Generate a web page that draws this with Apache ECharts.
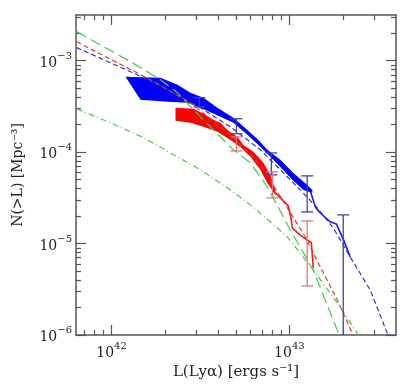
<!DOCTYPE html>
<html>
<head>
<meta charset="utf-8">
<script src="https://cdn.jsdelivr.net/npm/echarts@6/dist/echarts.min.js"></script>
<style>
  html, body { margin: 0; padding: 0; background: #fff; }
  #chart { width: 409px; height: 390px; }
</style>
</head>
<body>
<div id="chart"></div>
<script>
// L in units of 1e42 erg/s, N(>L) in Mpc^-3

// model curves
const greenDashL = [0.636, 1.279, 1.885, 2.349, 2.888, 3.60, 4.847, 6.04, 7.52, 10.13, 13.64, 18.61, 20.1]
const greenDashN = [2.08e-3, 9.75e-4, 6.19e-4, 4.47e-4, 2.90e-4, 1.89e-4, 1.06e-4, 7.64e-5, 4.17e-5, 1.41e-5, 5.14e-6, 1.13e-6, 7.74e-7]

const blueDashL = [0.636, 1.279, 1.885, 3.162, 4.663, 6.87, 11.53, 14.37, 17.67, 22.01, 28.52, 35.52, 37.91]
const blueDashN = [1.39e-3, 7.58e-4, 5.32e-4, 3.05e-4, 1.89e-4, 1.06e-4, 3.86e-5, 2.45e-5, 1.48e-5, 7.13e-6, 3.10e-6, 1.05e-6, 7.74e-7]

const redDashL = [0.636, 1.656, 2.778, 4.663, 6.87, 9.135, 12.30, 14.94, 18.61, 22.59, 23.79]
const redDashN = [1.61e-3, 6.19e-4, 3.47e-4, 1.55e-4, 7.26e-5, 3.01e-5, 1.18e-5, 5.55e-6, 2.42e-6, 1.05e-6, 7.74e-7]

const greenDotL = [0.636, 0.987, 1.513, 3.162, 4.663, 6.04, 7.82, 9.74, 13.64, 18.13, 24.10, 25.71]
const greenDotN = [2.98e-4, 2.09e-4, 1.44e-4, 6.40e-5, 3.86e-5, 2.65e-5, 1.73e-5, 1.18e-5, 5.14e-6, 2.41e-6, 1.05e-6, 7.74e-7]

// observed ranges (filled bands)
const blueUpL = [1.198, 1.885, 2.349, 2.778, 3.288, 3.94, 4.847, 5.81, 6.70, 7.52, 8.90, 10.53, 12.62, 13.46]
const blueUpN = [6.68e-4, 6.52e-4, 5.46e-4, 4.47e-4, 3.94e-4, 3.05e-4, 2.38e-4, 1.75e-4, 1.36e-4, 1.06e-4, 8.24e-5, 5.93e-5, 4.38e-5, 3.86e-5]
const blueLoL = [1.455, 2.064, 2.673, 3.162, 4.10, 4.847, 5.81, 6.70, 7.82, 8.90, 10.39, 11.99, 13.46]
const blueLoN = [3.74e-4, 3.56e-4, 3.47e-4, 3.05e-4, 2.44e-4, 2.09e-4, 1.55e-4, 1.20e-4, 8.89e-5, 6.90e-5, 4.98e-5, 3.86e-5, 3.58e-5]
const blueTailL = [13.12, 14.0, 14.94, 17.0, 18.37, 20.1, 22.01]
const blueTailN = [3.77e-5, 2.52e-5, 2.16e-5, 1.73e-5, 1.64e-5, 1.12e-5, 7.13e-6]

const redUpL = [2.289, 2.888, 3.288, 3.74, 4.10, 4.485, 5.105, 5.516, 6.28, 7.14, 7.82, 8.34]
const redUpN = [3.05e-4, 2.98e-4, 2.63e-4, 2.26e-4, 2.09e-4, 1.75e-4, 1.47e-4, 1.20e-4, 1.01e-4, 7.64e-5, 5.64e-5, 3.86e-5]
const redLoL = [2.289, 2.778, 3.288, 3.94, 4.663, 5.305, 6.04, 6.87, 7.52, 8.34]
const redLoN = [2.20e-4, 2.09e-4, 1.89e-4, 1.67e-4, 1.36e-4, 1.14e-4, 8.89e-5, 6.40e-5, 4.61e-5, 3.40e-5]
const redTailL = [8.24, 8.90, 9.87, 10.26, 10.39, 11.53, 12.62, 13.30, 13.64]
const redTailN = [3.67e-5, 3.16e-5, 2.58e-5, 1.81e-5, 1.48e-5, 1.24e-5, 1.09e-5, 1.02e-5, 5.41e-6]

// error bars
const blueErrL = [3.12, 5.04, 7.92, 12.6, 20.1]
const blueErrHi = [3.94e-4, 2.32e-4, 9.8e-5, 5.5e-5, 2.06e-5]
const blueErrLo = [3.13e-4, 1.59e-4, 5.64e-5, 2.22e-5, 1e-7]
const redErrL = [5.04, 8.03, 12.6]
const redErrHi = [1.47e-4, 6.08e-5, 1.77e-5]
const redErrLo = [1.03e-4, 3.16e-5, 3.44e-6]

// axes (log10 space)
const xMajor = [42, 43]
const xTickLabels = [['10', '42'], ['10', '43']]
const yMajor = [-6, -5, -4, -3]
const yTickLabels = [['10', '−6'], ['10', '−5'], ['10', '−4'], ['10', '−3']]
const xRange = [41.8, 43.6]
const yRange = [-6, -2.5]

const lx = l => 42 + Math.log10(l)
const ly = n => Math.log10(n)
const pairs = (L, N) => L.map((l, i) => [lx(l), ly(N[i])])

const minorTicks = (lo, hi) => {
  const out = []
  for (let d = Math.floor(lo) - 1; d <= Math.ceil(hi); d++) {
    for (let k = 2; k <= 9; k++) {
      const v = d + Math.log10(k)
      if (v > lo && v < hi) out.push(v)
    }
  }
  return out
}
const xMinor = minorTicks(xRange[0], xRange[1])
const yMinor = minorTicks(yRange[0], yRange[1])

const FONT = 'DejaVu Serif'
const AXIS_COLOR = '#555'
const labelRich = {
  b: { fontFamily: FONT, fontSize: 14, color: '#222', lineHeight: 19, verticalAlign: 'bottom' },
  s: { fontFamily: FONT, fontSize: 10, color: '#222', lineHeight: 19, verticalAlign: 'top' }
}

const makeAxis = (dim, position, range, major, minor, labels, showLine) => {
  const isX = dim === 'x'
  const base = {
    type: 'value',
    position,
    min: range[0],
    max: range[1],
    splitLine: { show: false },
    axisLine: { show: showLine, onZero: false, lineStyle: { color: AXIS_COLOR, width: 1.5 } }
  }
  const ticks = major ? major : minor
  base.axisTick = {
    show: true,
    inside: true,
    length: major ? 10 : 5,
    customValues: ticks,
    lineStyle: { color: AXIS_COLOR, width: 1.2 }
  }
  if (labels) {
    base.axisLabel = {
      show: true,
      customValues: major,
      margin: isX ? 6 : 4,
      formatter: v => {
        const t = labels[major.indexOf(v)]
        return t ? '{b|' + t[0] + '}{s|' + t[1] + '}' : ''
      },
      rich: labelRich
    }
  } else {
    base.axisLabel = { show: false }
  }
  return base
}

const xAxes = [
  Object.assign(makeAxis('x', 'bottom', xRange, xMajor, null, xTickLabels, true), {
    name: 'L(Lyα) [ergs s⁻¹]',
    nameLocation: 'middle',
    nameGap: 27,
    nameTextStyle: { fontFamily: FONT, fontSize: 15, color: '#222' }
  }),
  makeAxis('x', 'bottom', xRange, null, xMinor, null, false),
  makeAxis('x', 'top', xRange, xMajor, null, null, true),
  makeAxis('x', 'top', xRange, null, xMinor, null, false)
]
const yAxes = [
  Object.assign(makeAxis('y', 'left', yRange, yMajor, null, yTickLabels, true), {
    name: 'N(>L) [Mpc⁻³]',
    nameLocation: 'middle',
    nameGap: 51,
    nameTextStyle: { fontFamily: FONT, fontSize: 14, color: '#222' }
  }),
  makeAxis('y', 'left', yRange, null, yMinor, null, false),
  makeAxis('y', 'right', yRange, yMajor, null, null, true),
  makeAxis('y', 'right', yRange, null, yMinor, null, false)
]

const bandSeries = (upL, upN, loL, loN, color) => ({
  type: 'custom',
  xAxisIndex: 0,
  yAxisIndex: 0,
  data: [[upL[0], upN[0]]],
  clip: true,
  silent: true,
  z: 1,
  renderItem: (params, api) => {
    const pts = []
    upL.forEach((l, i) => pts.push(api.coord([lx(l), ly(upN[i])])))
    for (let i = loL.length - 1; i >= 0; i--) {
      pts.push(api.coord([lx(loL[i]), ly(loN[i])]))
    }
    return { type: 'polygon', shape: { points: pts }, style: { fill: color } }
  }
})

const lineSeries = (L, N, color, dash, width, z) => ({
  type: 'line',
  xAxisIndex: 0,
  yAxisIndex: 0,
  data: pairs(L, N),
  showSymbol: false,
  silent: true,
  clip: true,
  z: z || 3,
  lineStyle: { color, width: width || 1.2, type: dash || 'solid' }
})

const errSeries = (L, lo, hi, color) => ({
  type: 'custom',
  xAxisIndex: 0,
  yAxisIndex: 0,
  data: L.map((l, i) => [lx(l), ly(lo[i]), ly(hi[i])]),
  clip: true,
  silent: true,
  z: 5,
  renderItem: (params, api) => {
    const x = api.value(0)
    const pLo = api.coord([x, api.value(1)])
    const pHi = api.coord([x, api.value(2)])
    const w = 6
    const style = { stroke: color, lineWidth: 1.3 }
    return {
      type: 'group',
      children: [
        { type: 'line', shape: { x1: pLo[0], y1: pLo[1], x2: pHi[0], y2: pHi[1] }, style },
        { type: 'line', shape: { x1: pHi[0] - w, y1: pHi[1], x2: pHi[0] + w, y2: pHi[1] }, style },
        { type: 'line', shape: { x1: pLo[0] - w, y1: pLo[1], x2: pLo[0] + w, y2: pLo[1] }, style }
      ]
    }
  }
})

const chart = echarts.init(document.getElementById('chart'))
chart.setOption({
  animation: false,
  grid: { left: 76, right: 13, top: 15, bottom: 55 },
  xAxis: xAxes,
  yAxis: yAxes,
  series: [
    bandSeries(blueUpL, blueUpN, blueLoL, blueLoN, '#0000ff'),
    bandSeries(redUpL, redUpN, redLoL, redLoN, '#ff0000'),
    lineSeries(blueTailL, blueTailN, '#1a1ae6', 'solid', 1.6, 2),
    lineSeries(redTailL, redTailN, '#ee1c1c', 'solid', 1.6, 2),
    lineSeries(blueDashL, blueDashN, '#2f2fd0', [5, 3]),
    lineSeries(redDashL, redDashN, '#e03a3a', [5, 3]),
    lineSeries(greenDashL, greenDashN, '#44cc44', [11, 5]),
    lineSeries(greenDotL, greenDotN, '#44cc44', [6, 3, 1, 3]),
    errSeries(blueErrL, blueErrLo, blueErrHi, '#4040b0'),
    errSeries(redErrL, redErrLo, redErrHi, '#e07a7a')
  ]
})
</script>
</body>
</html>
